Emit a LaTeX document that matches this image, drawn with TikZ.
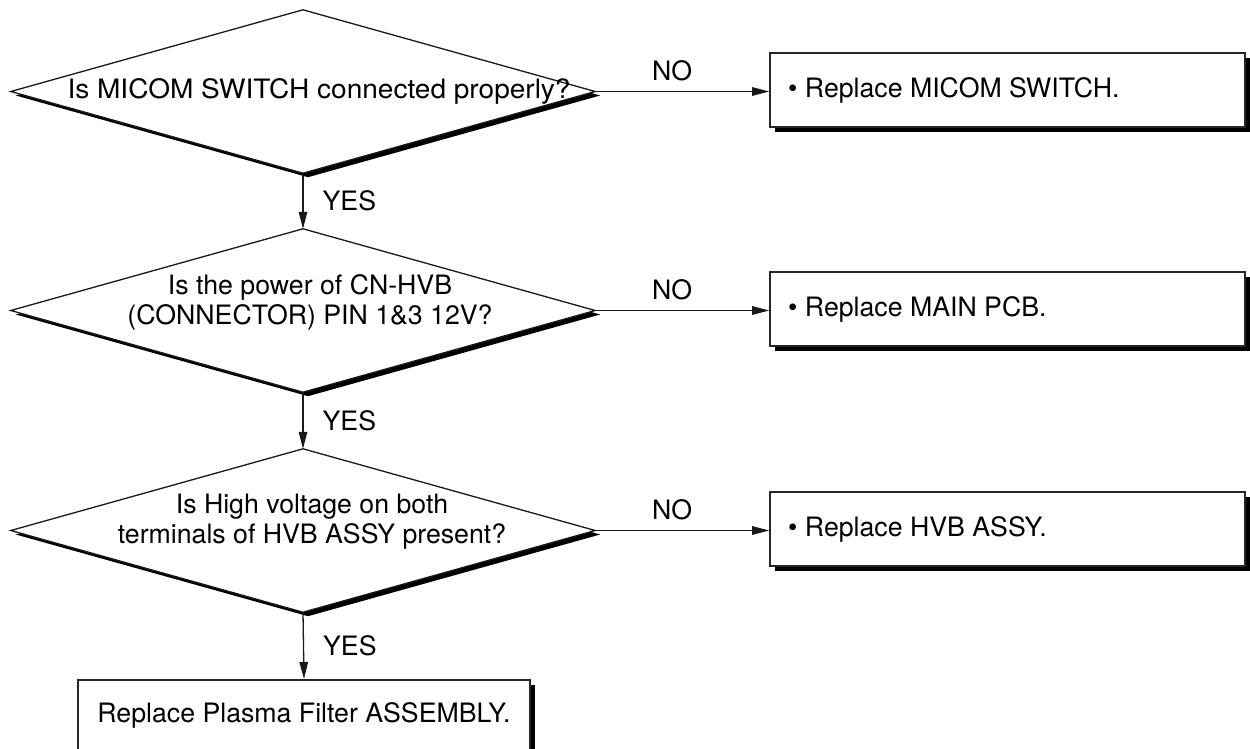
\documentclass[tikz,border=0pt]{standalone}
\usepackage{fontspec}
\setmainfont{TeX Gyre Heros}
\usetikzlibrary{arrows.meta,shadows}
\begin{document}
\begin{tikzpicture}[x=1pt,y=-1pt,
  every node/.style={font=\fontsize{26.7}{30}\selectfont, text=black},
  diamondbox/.style={rectangle, draw=none, minimum width=584pt, minimum height=163pt, inner sep=0pt},
  diamondline/.style={draw=black!90, line width=1.3pt, fill=white,
     drop shadow={shadow xshift=5pt, shadow yshift=-4pt, opacity=1, fill=black}},
  actbox/.style={rectangle, draw=black!85, line width=1.6pt, fill=white,
     minimum width=475pt, minimum height=74pt, inner sep=0pt,
     drop shadow={shadow xshift=5pt, shadow yshift=-5pt, opacity=1, fill=black}},
  conn/.style={draw=black!90, line width=1.3pt, -{Triangle[length=17pt,width=8.5pt]}},
  lbl/.style={inner sep=0pt}
]
\useasboundingbox (0,0) rectangle (1250,749);

% decision diamonds
\node[diamondbox] (d1) at (303,91.5) {};
\node[diamondbox] (d2) at (303,310.5) {};
\node[diamondbox] (d3) at (303,530.5) {};
\foreach \d in {d1,d2,d3}{
  \path[diamondline] (\d.west) -- (\d.north) -- (\d.east) -- (\d.south) -- cycle;
}
\node[align=center] (t1) at (319,91.5) {\scalebox{1.05}[1]{Is MICOM SWITCH connected properly?}};
\node[align=center] (t2) at (310,302) {Is the power of CN-HVB\\(CONNECTOR) PIN 1\&3 12V?};
\node[align=center] (t3) at (312,522) {Is High voltage on both\\terminals of HVB ASSY present?};

% action boxes
\node[actbox] (b1) at (1007.5,90) {};
\node[actbox] (b2) at (1007.5,309) {};
\node[actbox] (b3) at (1007.5,529) {};
\node[lbl, anchor=west] (bt1) at (788,90) {• Replace MICOM SWITCH.};
\node[lbl, anchor=west] (bt2) at (788,309) {• Replace MAIN PCB.};
\node[lbl, anchor=west] (bt3) at (788,529) {• Replace HVB ASSY.};

% final box (runs off the bottom of the page)
\node[actbox, minimum width=452pt, minimum height=110pt, anchor=north] (fin) at (304,679) {};
\node[lbl] (fint) at (304,715) {Replace Plasma Filter ASSEMBLY.};

% NO connectors
\draw[conn] (d1.east) -- (d1.east -| b1.west) node[lbl, midway, above=10pt, xshift=-10pt] {NO};
\draw[conn] (d2.east) -- (d2.east -| b2.west) node[lbl, midway, above=10pt, xshift=-10pt] {NO};
\draw[conn] (d3.east) -- (d3.east -| b3.west) node[lbl, midway, above=10pt, xshift=-10pt] {NO};

% YES connectors
\draw[conn] (d1.south) -- (d2.north) node[lbl, midway, right=19pt] {YES};
\draw[conn] (d2.south) -- (d3.north) node[lbl, midway, right=19pt] {YES};
\draw[conn] (d3.south) -- (fin.north) node[lbl, midway, right=19pt] {YES};
\end{tikzpicture}
\end{document}
